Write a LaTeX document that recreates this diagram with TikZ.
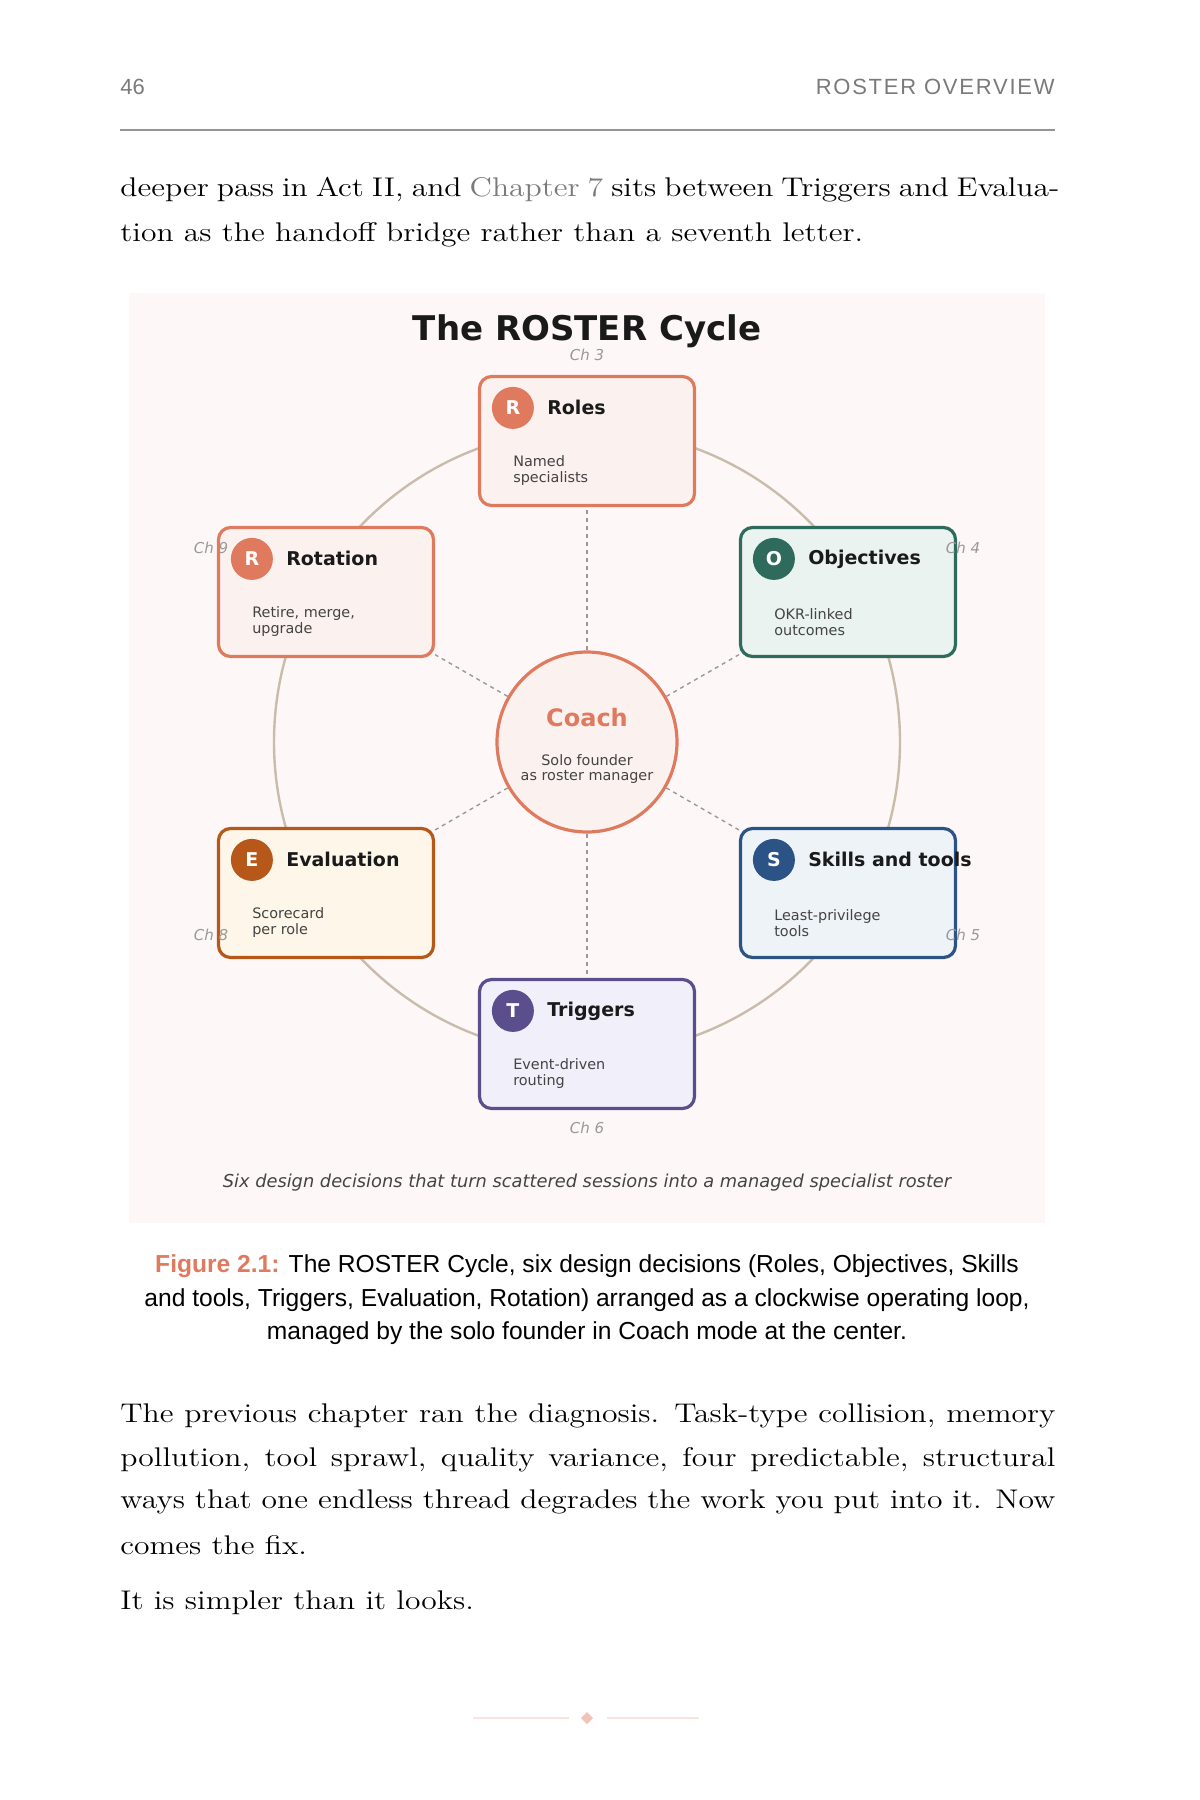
\documentclass[tikz,border=0pt]{standalone}
\usepackage{fontspec}
\usepackage{graphicx}
\newfontfamily\dejavu{DejaVu Sans}
\newfontfamily\helv{Liberation Sans}
\usetikzlibrary{positioning,calc,backgrounds}

\definecolor{terra}{HTML}{E07A5F}
\definecolor{terrabg}{HTML}{FBF1EE}
\definecolor{teal}{HTML}{2E6B5C}
\definecolor{tealbg}{HTML}{EAF3F0}
\definecolor{navy}{HTML}{2C5385}
\definecolor{navybg}{HTML}{EEF3F8}
\definecolor{plum}{HTML}{5A4E8C}
\definecolor{plumbg}{HTML}{F1EFF9}
\definecolor{rust}{HTML}{B5581A}
\definecolor{rustbg}{HTML}{FDF6E9}
\definecolor{panel}{HTML}{FDF8F7}
\definecolor{ring}{HTML}{C9BCAB}
\definecolor{ink}{HTML}{1A1A1A}
\definecolor{subgray}{HTML}{444444}
\definecolor{chgray}{HTML}{999999}
\definecolor{headgray}{HTML}{7A7A7A}

% body lines: widened serif, justified to the text block
\newcommand\justline[2][399.6pt]{\scalebox{1.17}[1]{\makebox[#1][s]{#2}}}
\newcommand\plainline[1]{\scalebox{1.17}[1]{#1}}

\tikzset{
  card/.style 2 args={draw=#1, fill=#2, rounded corners=6pt, line width=1.6pt,
    minimum width=107.5pt, minimum height=64.5pt},
  badge/.style={circle, fill=#1, minimum size=21pt, inner sep=0pt, text=white,
    font=\dejavu\bfseries\fontsize{9.5}{11}\selectfont},
  cardtitle/.style={anchor=west, inner sep=0pt, text=ink,
    font=\dejavu\bfseries\fontsize{9.5}{11}\selectfont},
  cardsub/.style={anchor=west, align=left, inner sep=0pt, text=subgray,
    font=\dejavu\fontsize{7.2}{8}\selectfont},
  chap/.style={inner sep=0pt, text=chgray, font=\dejavu\itshape\fontsize{7.5}{9}\selectfont},
  spoke/.style={draw=chgray, line width=0.7pt, dash pattern=on 2pt off 2pt},
  bodyline/.style={anchor=west, inner sep=0pt, font=\fontsize{13.5}{21.5}\selectfont}
}

\begin{document}
\begin{tikzpicture}[x=0.5pt, y=-0.5pt]
  \useasboundingbox (0,0) rectangle (1200,1800);
  \begin{scope}[on background layer]
    \fill[white] (0,0) rectangle (1200,1800);
    \fill[panel] (129,293) rectangle (1045,1223);
    \draw[ring, line width=1.2pt] (587,742) circle[radius=156.5pt];
  \end{scope}

  % page head
  \node[anchor=west, inner sep=0pt, text=headgray, font=\helv\fontsize{11}{13}\selectfont] (pageno) at (120,87) {46};
  \node[anchor=east, inner sep=0pt, text=headgray, font=\helv\fontsize{11}{13}\selectfont\addfontfeature{LetterSpace=8}] (runhead) at (1055,87) {ROSTER OVERVIEW};
  \draw[headgray!80, line width=0.7pt] (120,130) -- (1055,130);

  \node[bodyline] (top1) at (120,190) {\justline[401.3pt]{deeper pass in Act II, and {\color{headgray}Chapter \addfontfeature{Numbers=OldStyle}7} sits between Triggers and Evalua-}};
  \node[bodyline] (top2) at (120,235) {\plainline{tion as the handoff bridge rather than a seventh letter.}};

  % figure
  \node[text=ink, font=\dejavu\bfseries\fontsize{17}{20}\selectfont] (title) at (587,331) {The ROSTER Cycle};

  \node[circle, draw=terra, fill=terrabg, line width=1.6pt, minimum size=90pt] (coach) at (587,742) {};
  \node[text=terra, font=\dejavu\bfseries\fontsize{12}{14}\selectfont] (coach-t) at (587,718) {Coach};
  \node[align=center, text=subgray, font=\dejavu\fontsize{7.2}{7.5}\selectfont] (coach-s) at (587,769) {Solo founder\\as roster manager};

  \foreach \nm/\px/\py/\ltr/\ttl/\lna/\lnb/\col/\bg/\chx/\chy/\chn in {
      roles/587/441/R/Roles/Named/specialists/terra/terrabg/0/-86.5/3,
      objectives/848/592/O/Objectives/OKR-linked/outcomes/teal/tealbg/115/-44/4,
      skills/848/893/S/Skills and tools/Least-privilege/tools/navy/navybg/115/41.5/5,
      triggers/587/1044/T/Triggers/Event-driven/routing/plum/plumbg/0/84/6,
      evaluation/326/893/E/Evaluation/Scorecard/per role/rust/rustbg/-115/41.5/8,
      rotation/326/592/R/Rotation/{Retire, merge,}/upgrade/terra/terrabg/-115/-44/9}
  {
    \node[card={\col}{\bg}] (\nm) at (\px,\py) {};
    \node[badge=\col] (\nm-b) at ($(\nm.north west)+(35,33)$) {\ltr};
    \node[cardtitle] (\nm-t) at ($(\nm.north west)+(69,33)$) {\ttl};
    \node[cardsub] (\nm-s) at ($(\nm.north west)+(35,96)$) {\lna\\\lnb};
    \node[chap] (\nm-c) at ($(\nm)+(\chx,\chy)$) {Ch \chn};
  }

  \begin{scope}[on background layer]
    \foreach \nm in {roles,objectives,skills,triggers,evaluation,rotation}
      \draw[spoke] (coach) -- (\nm);
  \end{scope}

  \node[text=subgray, font=\dejavu\itshape\fontsize{8.9}{10}\selectfont] (note) at (587,1183) {Six design decisions that turn scattered sessions into a managed specialist roster};

  % caption
  \node[align=center, font=\helv\fontsize{12.3}{16.75}\selectfont] (caption) at (587,1300)
    {{\color{terra}\bfseries Figure 2.1:} The ROSTER Cycle, six design decisions (Roles, Objectives, Skills\\
     and tools, Triggers, Evaluation, Rotation) arranged as a clockwise operating loop,\\
     managed by the solo founder in Coach mode at the center.};

  \node[bodyline] (par1) at (120,1416) {\justline{The previous chapter ran the diagnosis. Task-type collision, memory}};
  \node[bodyline] (par2) at (120,1460) {\justline{pollution, tool sprawl, quality variance, four predictable, structural}};
  \node[bodyline] (par3) at (120,1502) {\justline{ways that one endless thread degrades the work you put into it. Now}};
  \node[bodyline] (par4) at (120,1545) {\plainline{comes the fix.}};
  \node[bodyline] (par5) at (120,1603) {\plainline{It is simpler than it looks.}};

  % ornament
  \draw[terra!20, line width=0.7pt] (473,1718) -- (569,1718);
  \draw[terra!20, line width=0.7pt] (607,1718) -- (699,1718);
  \fill[terra!45] (587,1712) -- (593,1718) -- (587,1724) -- (581,1718) -- cycle;
\end{tikzpicture}
\end{document}
